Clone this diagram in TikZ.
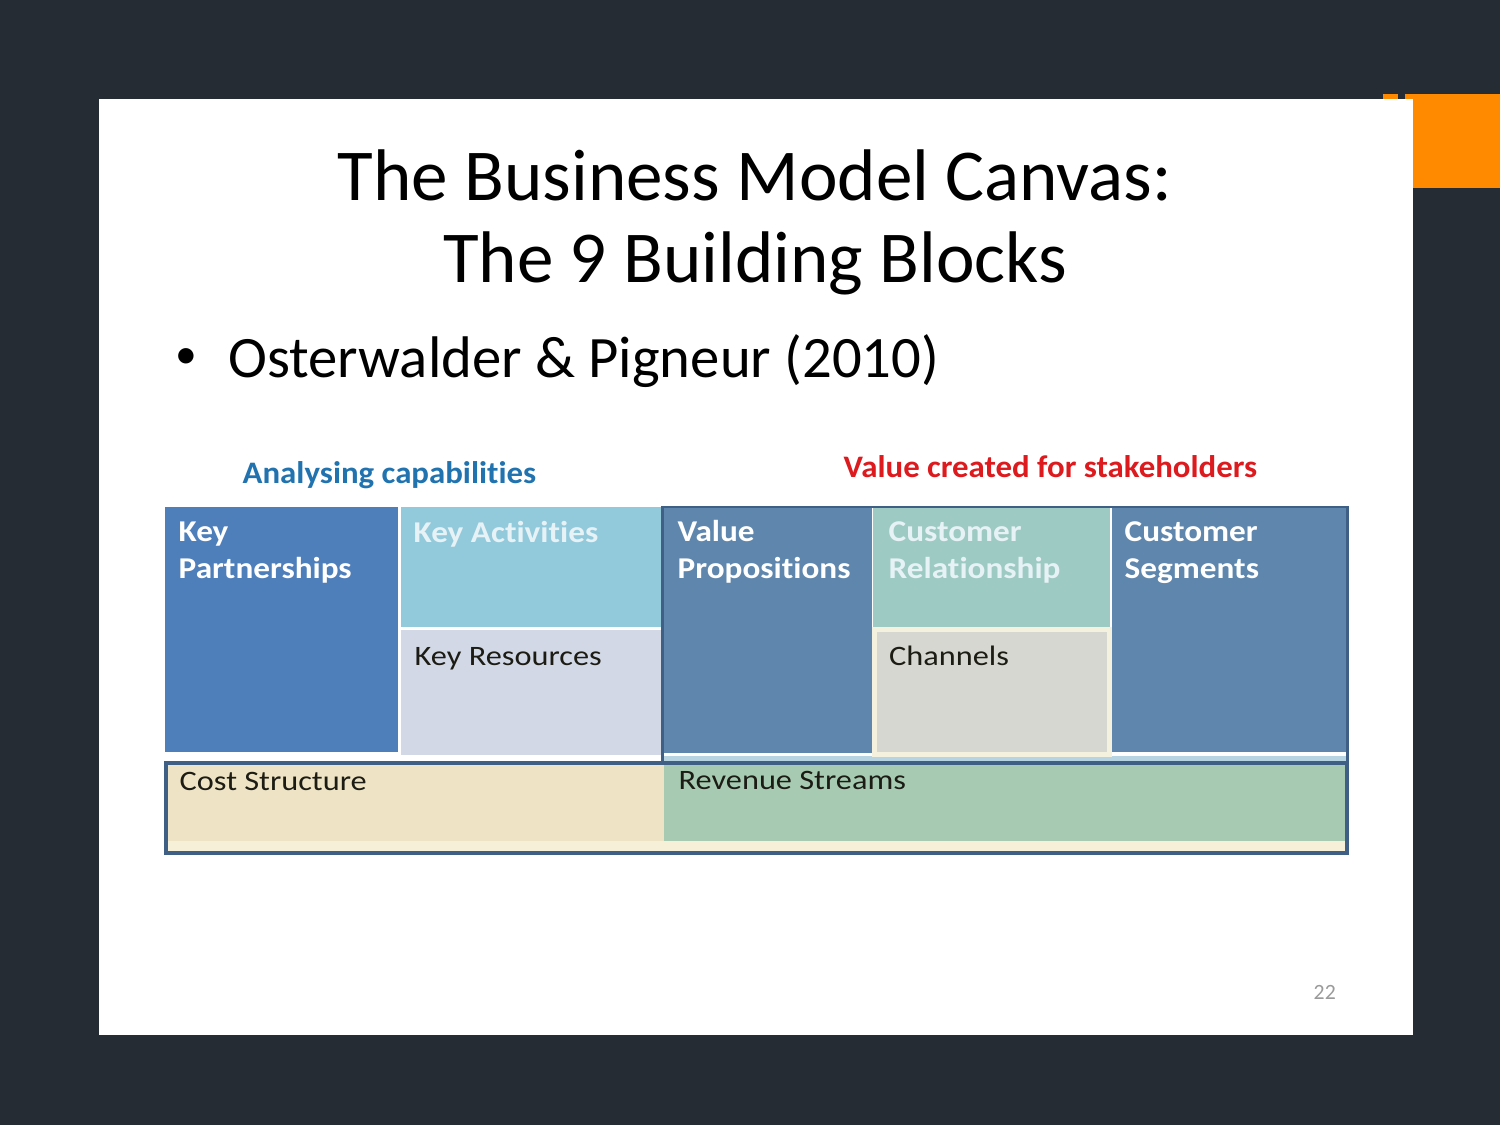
\documentclass[tikz,border=0pt]{standalone}
\usepackage{fontspec}
\setmainfont[Ligatures=NoCommon]{Carlito}
\newfontfamily\canvasfont[Ligatures=NoCommon, FakeStretch=1.15]{Carlito}
\newfontfamily\blockfont[Ligatures=NoCommon, FakeStretch=1.1]{Carlito}
\newfontfamily\groupfont[Ligatures=NoCommon, FakeStretch=1.05]{Carlito}
\usepackage{tikz}
\usetikzlibrary{positioning}
\definecolor{pagebg}{HTML}{262C34}
\definecolor{accentorange}{HTML}{FF8A00}
\definecolor{partnerblue}{HTML}{4F7FBA}
\definecolor{activitycyan}{HTML}{92CADB}
\definecolor{resourcelilac}{HTML}{D2D8E6}
\definecolor{valueblue}{HTML}{5F87AD}
\definecolor{relationteal}{HTML}{9ECAC4}
\definecolor{channelgrey}{HTML}{D6D7D0}
\definecolor{channelrim}{HTML}{F4F2DE}
\definecolor{costbeige}{HTML}{EEE3C4}
\definecolor{revenuegreen}{HTML}{A7CBB2}
\definecolor{creamstrip}{HTML}{F7F0D8}
\definecolor{lightstrip}{HTML}{B7D4E3}
\definecolor{framecol}{HTML}{3F5F85}
\definecolor{capblue}{HTML}{2173B0}
\definecolor{valuered}{HTML}{DD1A1E}
\definecolor{lightlabel}{HTML}{E6F2F5}
\definecolor{textdark}{HTML}{1C1C14}
\definecolor{pagenum}{HTML}{9A9A9A}
\tikzset{
  canvasblock/.style={
    anchor=north west, inner sep=0pt, outer sep=0pt
  },
  headlabel/.style={
    anchor=north west, inner sep=0pt, align=left, text=white,
    font=\blockfont\bfseries\fontsize{8.6}{10.5}\selectfont
  },
  plainlabel/.style={
    anchor=north west, inner sep=0pt, text=textdark,
    font=\canvasfont\fontsize{8.0}{9}\selectfont
  },
  grouphead/.style={
    anchor=base west, inner sep=0pt, font=\groupfont\bfseries\fontsize{8.9}{10}\selectfont
  },
  titletext/.style={
    anchor=north, inner sep=0pt, align=center,
    font=\fontsize{20.8}{23.3}\selectfont
  },
  bullettext/.style={
    anchor=base west, inner sep=0pt, font=\fontsize{16.7}{20}\selectfont
  }
}

\begin{document}
\begin{tikzpicture}[node distance=0.14cm and 0.13cm]
  % page, slide and corner tab
  \fill[pagebg] (0,0) rectangle (15,-11.25);
  \fill[accentorange] (14.05,-0.94) rectangle (15,-1.88);
  \fill[accentorange] (13.83,-0.94) rectangle (13.98,-0.99);
  \fill[white] (0.99,-0.99) rectangle (14.13,-10.35);

  \node[titletext] (title) at (7.55,-1.49) {The Business Model Canvas:\\The 9 Building Blocks};
  \node[bullettext] (source) at (1.75,-3.77) {{\fontsize{12.4}{13}\selectfont\raisebox{2.3pt}{\textbullet}}\hspace{0.31cm}Osterwalder \& Pigneur (2010)};

  \node[grouphead, text=capblue] (capabhead) at (2.42,-4.83) {Analysing capabilities};
  \node[grouphead, text=valuered] (valuehead) at (8.43,-4.77) {Value created for stakeholders};

  % left half of the canvas
  \node[canvasblock, fill=partnerblue, minimum width=2.33cm, minimum height=2.45cm] (kp) at (1.65,-5.07) {};
  \node[canvasblock, fill=activitycyan, minimum width=2.60cm, minimum height=1.20cm] (ka) at (4.01,-5.07) {};
  \node[canvasblock, fill=resourcelilac, minimum width=2.60cm, minimum height=1.25cm] (kr) at (4.01,-6.30) {};

  % right half of the canvas
  \node[canvasblock, fill=lightstrip, minimum width=6.82cm, minimum height=0.06cm] (rowstrip) at (6.64,-7.56) {};
  \node[canvasblock, fill=valueblue, minimum width=2.08cm, minimum height=2.45cm] (vp) at (6.64,-5.08) {};
  \node[canvasblock, fill=relationteal, minimum width=2.37cm, minimum height=1.19cm] (cr) at (8.73,-5.08) {};
  \node[canvasblock, fill=channelgrey, draw=channelrim, line width=1.2pt, minimum width=2.35cm, minimum height=1.25cm] (ch) at (8.745,-6.295) {};
  \node[canvasblock, fill=valueblue, minimum width=2.34cm, minimum height=2.44cm] (cs) at (11.12,-5.08) {};
  \node[canvasblock, draw=framecol, line width=0.8pt, minimum width=6.85cm, minimum height=2.56cm] (valueframe) at (6.625,-5.07) {};

  % bottom row
  \node[canvasblock, fill=costbeige, minimum width=11.81cm, minimum height=0.90cm] (cost) at (1.66,-7.63) {};
  \node[canvasblock, fill=revenuegreen, minimum width=6.81cm, minimum height=0.76cm] (rev) at (6.64,-7.645) {};
  \node[canvasblock, fill=creamstrip, minimum width=11.78cm, minimum height=0.10cm] (basestrip) at (1.675,-8.405) {};
  \draw[framecol, line width=0.9pt] (cost.north west) rectangle (cost.south east);

  % labels
  \node[headlabel, below right=0.14cm and 0.13cm of kp.north west] (kplabel) {Key\\Partnerships};
  \node[headlabel, text=lightlabel, below right=0.14cm and 0.12cm of ka.north west] (kalabel) {Key Activities};
  \node[plainlabel, below right=0.17cm and 0.13cm of kr.north west] (krlabel) {Key Resources};
  \node[headlabel, below right=0.12cm and 0.13cm of vp.north west] (vplabel) {Value\\Propositions};
  \node[headlabel, text=lightlabel, below right=0.13cm and 0.15cm of cr.north west] (crlabel) {Customer\\Relationship};
  \node[plainlabel, below right=0.16cm and 0.14cm of ch.north west] (chlabel) {Channels};
  \node[headlabel, below right=0.13cm and 0.12cm of cs.north west] (cslabel) {Customer\\Segments};
  \node[plainlabel, below right=0.09cm and 0.13cm of cost.north west] (costlabel) {Cost Structure};
  \node[plainlabel, below right=0.065cm and 0.14cm of rev.north west] (revlabel) {Revenue Streams};

  \node[anchor=base west, inner sep=0pt, text=pagenum, font=\fontsize{6.2}{7}\selectfont] (pageno) at (13.13,-9.99) {22};
\end{tikzpicture}
\end{document}
